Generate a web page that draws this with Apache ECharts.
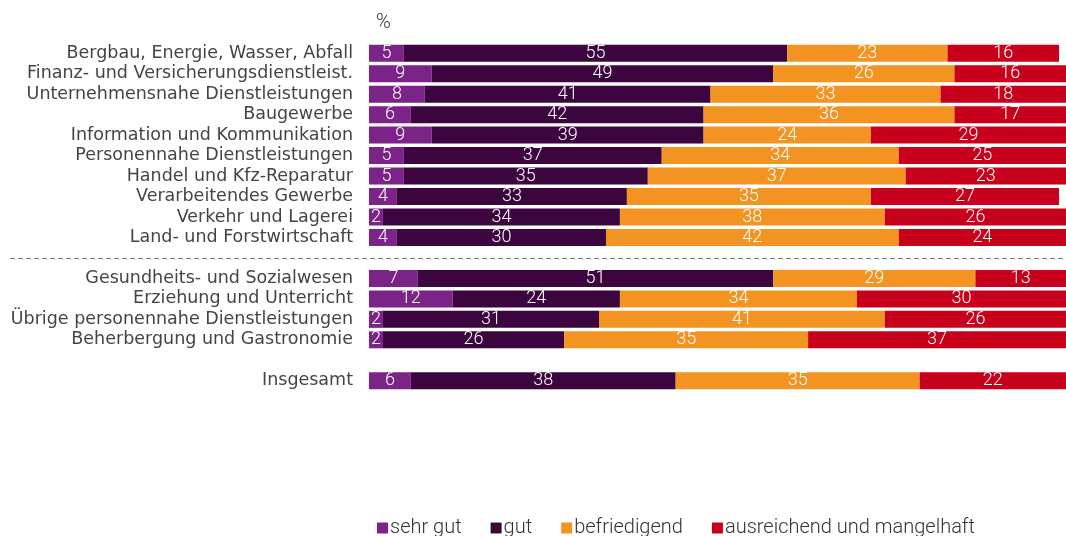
<!DOCTYPE html>
<html>
<head>
<meta charset="utf-8">
<script src="https://cdn.jsdelivr.net/npm/echarts@6/dist/echarts.min.js"></script>
<style>
  html, body { margin: 0; padding: 0; background: #fff; }
  #chart { width: 1066px; height: 536px; }
</style>
</head>
<body>
<div id="chart"></div>
<script>
// Wirtschaftszweige, leere Einträge sind die Lücken zwischen den Gruppen
const categories = [
  'Bergbau, Energie, Wasser, Abfall',
  'Finanz- und Versicherungsdienstleist.',
  'Unternehmensnahe Dienstleistungen',
  'Baugewerbe',
  'Information und Kommunikation',
  'Personennahe Dienstleistungen',
  'Handel und Kfz-Reparatur',
  'Verarbeitendes Gewerbe',
  'Verkehr und Lagerei',
  'Land- und Forstwirtschaft',
  '',
  'Gesundheits- und Sozialwesen',
  'Erziehung und Unterricht',
  'Übrige personennahe Dienstleistungen',
  'Beherbergung und Gastronomie',
  ' ',
  'Insgesamt'
]
const sehrGut      = [5, 9, 8, 6, 9, 5, 5, 4, 2, 4, null, 7, 12, 2, 2, null, 6]
const gut          = [55, 49, 41, 42, 39, 37, 35, 33, 34, 30, null, 51, 24, 31, 26, null, 38]
const befriedigend = [23, 26, 33, 36, 24, 34, 37, 35, 38, 42, null, 29, 34, 41, 35, null, 35]
const ausreichend  = [16, 16, 18, 17, 29, 25, 23, 27, 26, 24, null, 13, 30, 26, 37, null, 22]

const seriesNames = ['sehr gut', 'gut', 'befriedigend', 'ausreichend und mangelhaft']
const colors = ['#7b2389', '#3c0540', '#f39322', '#c8001c']

function makeSeries(name, data, color) {
  return {
    name: name,
    type: 'bar',
    stack: 'total',
    data: data,
    barWidth: '83%',
    itemStyle: { color: color },
    label: {
      show: true,
      position: 'inside',
      color: '#fff',
      fontFamily: 'Roboto',
      fontSize: 18,
      fontWeight: 300
    }
  }
}

const myChart = echarts.init(document.getElementById('chart'))
myChart.setOption({
  animation: false,
  color: colors,
  grid: { left: 369, right: -3, top: 43, bottom: 145 },
  xAxis: { type: 'value', min: 0, max: 100, show: false },
  yAxis: {
    type: 'category',
    inverse: true,
    data: categories,
    axisLine: { show: false },
    axisTick: { show: false },
    axisLabel: {
      interval: 0,
      margin: 16,
      color: '#444',
      fontFamily: 'DejaVu Sans',
      fontSize: 17.5
    }
  },
  legend: {
    left: 372,
    bottom: -7,
    icon: 'rect',
    itemWidth: 11,
    itemHeight: 11,
    itemGap: 29,
    textStyle: {
      color: '#333',
      fontFamily: 'Roboto',
      fontWeight: 300,
      fontSize: 20,
      padding: [0, 0, 0, -3]
    },
    data: seriesNames
  },
  series: [
    makeSeries(seriesNames[0], sehrGut, colors[0]),
    makeSeries(seriesNames[1], gut, colors[1]),
    makeSeries(seriesNames[2], befriedigend, colors[2]),
    makeSeries(seriesNames[3], ausreichend, colors[3])
  ]
})

// Trennlinie und Einheit nach dem Layout setzen
const sepY = Math.round(myChart.convertToPixel({ yAxisIndex: 0 }, '')) + 0.5
myChart.setOption({
  graphic: [
    {
      type: 'line',
      shape: { x1: 10, y1: sepY, x2: 1066, y2: sepY },
      style: { stroke: '#777', lineWidth: 1, lineDash: [5, 3] }
    },
    {
      type: 'text',
      left: 376,
      top: 13,
      style: { text: '%', fill: '#333', font: '300 20px Roboto' }
    }
  ]
})
</script>
</body>
</html>
